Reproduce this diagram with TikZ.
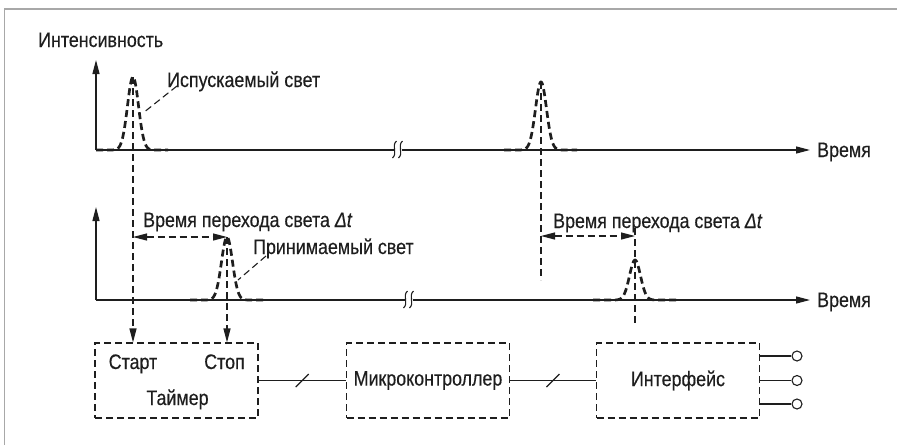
\documentclass[tikz,border=0pt]{standalone}
\usepackage{fontspec}
\setmainfont[FakeStretch=0.85,FakeBold=0.35]{Liberation Sans}
\usetikzlibrary{arrows.meta,calc}
\definecolor{ink}{HTML}{1E1E1E}
\definecolor{frame}{HTML}{A8A8A8}
\newcommand\mypulse[5]{%
  \draw[pulsestyle] plot[domain=#4:#5, samples=140, smooth] ({#1+\x},{#2-#3*exp(-(\x)^2/60.5)});}
\tikzset{
  txt/.style={inner sep=0pt, font=\fontsize{21}{24}\selectfont, text=ink},
  axisline/.style={draw=ink, line width=1.3pt},
  tip/.style={-{Triangle[length=14pt,width=7pt]}},
  pulsestyle/.style={draw=ink, line width=2.7pt, dash pattern=on 7pt off 4pt},
  thindash/.style={draw=ink, line width=1.1pt, dash pattern=on 7pt off 4pt},
  boxstyle/.style={draw=ink, line width=1.1pt, dash pattern=on 7pt off 4pt, minimum width=163pt, minimum height=75pt, inner sep=0pt, font=\fontsize{21}{24}\selectfont, text=ink},
  wire/.style={draw=ink, line width=1.1pt},
  port/.style={circle, draw=ink, line width=1.1pt, fill=white, minimum size=10pt, inner sep=0pt},
}
\begin{document}
\begin{tikzpicture}[x=1pt, y=-1pt]
\useasboundingbox (0,0) rectangle (897,445);
% frame
\draw[frame, line width=1.6pt] (4.5,445) -- (4.5,9) -- (897,9);

% ---------- top chart ----------
\node[txt, anchor=base west] (intens) at (38,47) {Интенсивность};
\coordinate (o1) at (96,150);
\coordinate (y1) at (96,60);
\coordinate (x1) at (810,150);
\draw[axisline, tip] (o1) -- (y1);
\draw[axisline, tip] (o1) -- (x1);
\node[txt, anchor=base west] (time1) at (817,157) {Время};
% break mark top
\fill[white] (394,143) rectangle (402,157);
\draw[ink, line width=1.1pt] (392.5,158) .. controls (398,153) and (391,146) .. (396.5,141);
\draw[ink, line width=1.1pt] (398.5,158) .. controls (404,153) and (397,146) .. (402.5,141);

% pulses top
\mypulse{133}{150}{73}{-37}{35}
\mypulse{541}{150}{68}{-37}{36}
\coordinate (p1) at (133,77);
\coordinate (p2) at (541,82);
\coordinate (p2end) at (541,280);
\node[txt, anchor=base west] (emit) at (167,87) {Испускаемый свет};
\coordinate (emitfoot) at (143,113);
\draw[thindash] (177,86) -- (emitfoot);

% ---------- second chart ----------
\coordinate (o2) at (96,300);
\coordinate (y2) at (96,207);
\coordinate (x2) at (810,300);
\draw[axisline, tip] (o2) -- (y2);
\draw[axisline, tip] (o2) -- (x2);
\node[txt, anchor=base west] (time2) at (817,307) {Время};
% break mark bottom
\fill[white] (405,293) rectangle (413,307);
\draw[ink, line width=1.1pt] (403.5,308) .. controls (409,303) and (402,296) .. (407.5,291);
\draw[ink, line width=1.1pt] (409.5,308) .. controls (415,303) and (408,296) .. (413.5,291);

\mypulse{227}{300}{63}{-37}{36}
\mypulse{635}{300}{40}{-42}{43}
\coordinate (p3) at (227,237);
\coordinate (p4top) at (635,228);
\coordinate (p4end) at (635,323);
\coordinate (dt2b) at (635,236);

\node[txt, anchor=base west] (dtlab1) at (143,227) {Время перехода света {\itshape Δt}};
\node[txt, anchor=base west] (dtlab2) at (553,228) {Время перехода света {\itshape Δt}};
\node[txt, anchor=base west] (recv) at (253,254) {Принимаемый свет};
\coordinate (recvfoot) at (238,280);
\draw[thindash] (266,256) -- (recvfoot);

% ---------- blocks ----------
\node[boxstyle] (timer) at (176.5,380.5) {};
\node[boxstyle] (mc) at (428,380.5) {Микроконтроллер};
\node[boxstyle] (intf) at (678,380.5) {Интерфейс};
\node[txt, anchor=base] (start) at (133,369) {Старт};
\node[txt, anchor=base] (stop) at (224.5,369) {Стоп};
\node[txt, anchor=base] (timerlab) at (177.5,405) {Таймер};

% dashed timing lines
\draw[thindash, tip] (p1) -- (p1 |- timer.north);
\draw[thindash, tip] (p3) -- (p3 |- timer.north);
\draw[thindash] (p2) -- (p2end);
\draw[thindash] (p4top) -- (p4end);
\draw[thindash, {Triangle[length=14pt,width=7pt]}-{Triangle[length=14pt,width=7pt]}] (p1 |- p3) -- (p3);
\draw[thindash, {Triangle[length=14pt,width=7pt]}-{Triangle[length=14pt,width=7pt]}] (p2 |- dt2b) -- (dt2b);

% buses
\draw[wire] (timer.east) -- coordinate[pos=0.5] (s1) (mc.west);
\draw[wire] ($(s1)+(-6.5,6.5)$) -- ($(s1)+(6.5,-6.5)$);
\draw[wire] (mc.east) -- coordinate[pos=0.5] (s2) (intf.west);
\draw[wire] ($(s2)+(-6.5,6.5)$) -- ($(s2)+(6.5,-6.5)$);

% outputs
\node[port] (q1) at (797,356) {};
\node[port] (q2) at (797,380.5) {};
\node[port] (q3) at (797,404) {};
\draw[wire] (intf.east |- q1) -- (q1);
\draw[wire] (intf.east |- q2) -- (q2);
\draw[wire] (intf.east |- q3) -- (q3);
\end{tikzpicture}
\end{document}
